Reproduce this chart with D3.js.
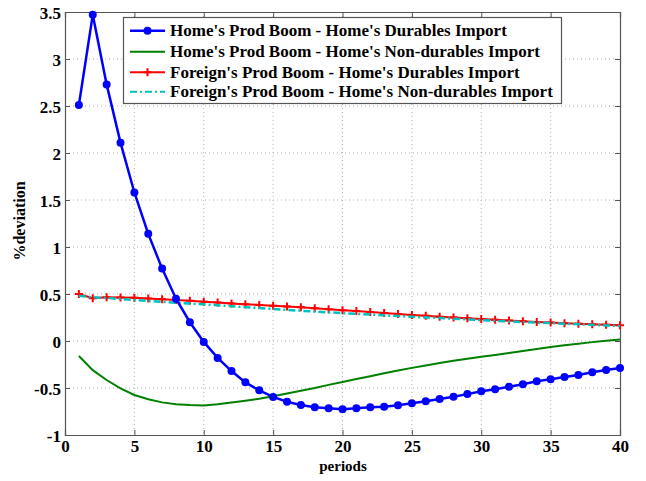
<!DOCTYPE html>
<html><head><meta charset="utf-8">
<script src="https://cdn.jsdelivr.net/npm/d3@7"></script>
<style>body{margin:0;background:#fff}</style>
</head><body>
<svg id="c" width="646" height="481"></svg>
<script>
const periods = d3.range(1, 41);
const homeDurables = [2.51,3.47,2.73,2.11,1.58,1.14,0.77,0.45,0.20,-0.01,-0.18,-0.32,-0.44,-0.525,-0.595,-0.646,-0.681,-0.705,-0.716,-0.727,-0.716,-0.705,-0.699,-0.684,-0.662,-0.641,-0.617,-0.593,-0.565,-0.534,-0.514,-0.486,-0.461,-0.429,-0.407,-0.383,-0.362,-0.333,-0.309,-0.287];
const homeNonDurables = [-0.16,-0.31,-0.415,-0.503,-0.574,-0.62,-0.653,-0.672,-0.682,-0.685,-0.672,-0.655,-0.636,-0.614,-0.588,-0.558,-0.529,-0.50,-0.467,-0.437,-0.405,-0.374,-0.343,-0.314,-0.286,-0.26,-0.235,-0.21,-0.188,-0.167,-0.148,-0.128,-0.106,-0.084,-0.063,-0.045,-0.028,-0.012,0.003,0.015];
const foreignDurables = [0.50,0.455,0.465,0.463,0.46,0.452,0.445,0.437,0.428,0.418,0.41,0.40,0.392,0.384,0.376,0.367,0.358,0.348,0.338,0.328,0.318,0.308,0.298,0.288,0.277,0.268,0.259,0.25,0.242,0.234,0.226,0.218,0.21,0.203,0.196,0.19,0.184,0.178,0.172,0.167];
const foreignNonDurables = [0.48,0.465,0.458,0.447,0.436,0.426,0.416,0.407,0.398,0.39,0.38,0.37,0.36,0.35,0.34,0.331,0.322,0.313,0.305,0.297,0.289,0.281,0.273,0.265,0.258,0.251,0.244,0.237,0.229,0.222,0.215,0.208,0.202,0.196,0.19,0.184,0.178,0.172,0.166,0.16];
const xTicks = [0,5,10,15,20,25,30,35,40];
const yTicks = [-1,-0.5,0,0.5,1,1.5,2,2.5,3,3.5];
const legendLabels = ["Home's Prod Boom - Home's Durables Import","Home's Prod Boom - Home's Non-durables Import","Foreign's Prod Boom - Home's Durables Import","Foreign's Prod Boom - Home's Non-durables Import"];

const FONT = "Liberation Serif";
const svg = d3.select("#c");
const L=65,R=620,T=12,B=435;
const x = d3.scaleLinear().domain([0,40]).range([L,R]);
const y = d3.scaleLinear().domain([-1,3.5]).range([B,T]);

// grid
const g = svg.append("g");
g.selectAll(".gx").data(xTicks.slice(1,-1)).enter().append("line")
 .attr("x1",d=>x(d)).attr("x2",d=>x(d)).attr("y1",T).attr("y2",B)
 .attr("stroke","#b0b0b0").attr("stroke-width",1).attr("stroke-dasharray","1,3");
g.selectAll(".gy").data(yTicks.slice(1,-1)).enter().append("line")
 .attr("y1",d=>y(d)).attr("y2",d=>y(d)).attr("x1",L).attr("x2",R)
 .attr("stroke","#b0b0b0").attr("stroke-width",1).attr("stroke-dasharray","1,3");

// axes
const axB = d3.axisBottom(x).tickValues(xTicks).tickSize(-5).tickPadding(5).tickFormat(d3.format("d"));
const axL = d3.axisLeft(y).tickValues(yTicks).tickSize(-5).tickPadding(4).tickFormat(d=>String(d));
const axT = d3.axisTop(x).tickValues(xTicks).tickSize(-5).tickFormat("");
const axR = d3.axisRight(y).tickValues(yTicks).tickSize(-5).tickFormat("");
function style(sel){sel.attr("font-family",FONT).attr("font-size",17).attr("font-weight","bold");sel.select(".domain").attr("stroke","#555").attr("stroke-width",1.2);sel.selectAll(".tick line").attr("stroke","#555");sel.selectAll("text").attr("fill","#000");}
svg.append("g").attr("transform",`translate(0,${B})`).call(axB).call(style);
svg.append("g").attr("transform",`translate(${L},0)`).call(axL).call(style).selectAll("text").attr("dy","0.4em");
svg.append("g").attr("transform",`translate(0,${T})`).call(axT).call(style);
svg.append("g").attr("transform",`translate(${R},0)`).call(axR).call(style);

const line = d3.line().x((d,i)=>x(periods[i])).y(d=>y(d));
const plot = svg.append("g");
plot.append("path").datum(homeNonDurables).attr("d",line).attr("fill","none").attr("stroke","#008000").attr("stroke-width",2);
plot.append("path").datum(foreignDurables).attr("d",line).attr("fill","none").attr("stroke","#FF0000").attr("stroke-width",2);
plot.selectAll(".pl").data(foreignDurables).enter().append("path")
 .attr("d",(d,i)=>`M${x(periods[i])-4},${y(d)}h8M${x(periods[i])},${y(d)-4}v8`).attr("stroke","#FF0000").attr("stroke-width",2);
plot.append("path").datum(foreignNonDurables).attr("d",line).attr("fill","none").attr("stroke","#00BFBF").attr("stroke-width",2.5).attr("stroke-dasharray","7,3,2,3");
plot.append("path").datum(homeDurables).attr("d",line).attr("fill","none").attr("stroke","#0000FF").attr("stroke-width",2.5);
plot.selectAll(".dot").data(homeDurables).enter().append("circle")
 .attr("cx",(d,i)=>x(periods[i])).attr("cy",d=>y(d)).attr("r",4).attr("fill","#0000FF");

// labels
svg.append("text").attr("x",343).attr("y",471).attr("text-anchor","middle").attr("font-family",FONT).attr("font-weight","bold").attr("font-size",15).text("periods");
svg.append("text").attr("transform",`translate(25,221) rotate(-90)`).attr("text-anchor","middle").attr("font-family",FONT).attr("font-weight","bold").attr("font-size",16).text("%deviation");

// legend
const lg = svg.append("g");
lg.append("rect").attr("x",123.5).attr("y",17.5).attr("width",438).attr("height",86).attr("fill","#fff").attr("stroke","#555").attr("stroke-width",1.2);
const rows=[30.7,51.7,72.3,91.7];
const cols=["#0000FF","#008000","#FF0000","#00BFBF"];
legendLabels.forEach((t,i)=>{
  const ly=rows[i];
  const ln=lg.append("line").attr("x1",130).attr("x2",165).attr("y1",ly).attr("y2",ly).attr("stroke",cols[i]).attr("stroke-width",i==0?2.5:2);
  if(i==3) ln.attr("stroke-dasharray","7,3,2,3");
  if(i==0) lg.append("circle").attr("cx",147.5).attr("cy",ly).attr("r",4).attr("fill","#0000FF");
  if(i==2) lg.append("path").attr("d",`M143.5,${ly}h8M147.5,${ly-4}v8`).attr("stroke","#FF0000").attr("stroke-width",2);
  lg.append("text").attr("x",170).attr("y",ly+5.5).attr("font-family",FONT).attr("font-weight","bold").attr("font-size",17).text(t);
});
</script>
</body></html>
